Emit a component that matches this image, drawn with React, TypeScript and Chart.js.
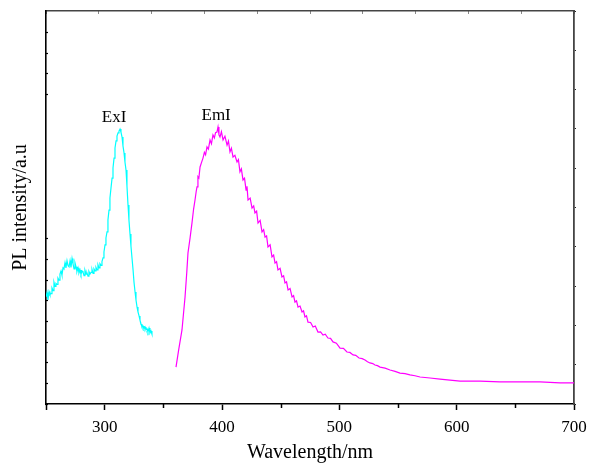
import React, { useEffect, useRef } from "react";
import { Chart, registerables } from "chart.js";

Chart.register(...registerables);

// Excitation spectrum (ExI)
const exWavelengths = [
  250.0, 250.9, 251.7, 252.6, 253.4, 254.3, 255.1, 256.0, 256.8, 257.7,
  258.5, 259.4, 260.2, 261.1, 261.9, 262.8, 263.6, 264.5, 265.3, 266.2,
  267.0, 267.9, 268.8, 269.6, 270.5, 271.3, 272.2, 273.0, 273.9, 274.7,
  275.6, 276.4, 277.3, 278.1, 279.0, 279.8, 280.7, 281.5, 282.4, 283.2,
  284.1, 284.9, 285.8, 286.6, 287.5, 288.4, 289.2, 290.1, 290.9, 291.8,
  292.6, 293.5, 294.3, 295.2, 296.0, 296.9, 297.7, 298.6, 299.4, 300.3,
  301.1, 302.0, 302.8, 303.7, 304.5, 305.4, 306.3, 307.1, 308.0, 308.8,
  309.7, 310.5, 311.4, 312.2, 313.1, 313.9, 314.8, 315.6, 316.5, 317.3,
  318.2, 319.0, 319.9, 320.7, 321.6, 322.4, 323.3, 324.2, 325.0, 325.9,
  326.7, 327.6, 328.4, 329.3, 330.1, 331.0, 331.8, 332.7, 333.5, 334.4,
  335.2, 336.1, 336.9, 337.8, 338.6, 339.5, 340.3,
];
const exIntensity = [
  5.19, 5.4, 5.05, 5.45, 5.3, 5.35, 5.62, 5.5, 5.9, 5.7,
  5.85, 5.8, 6.1, 6.0, 6.3, 6.45, 6.25, 6.6, 6.55, 6.85,
  6.6, 6.95, 6.7, 6.65, 6.95, 6.62, 7.05, 6.8, 6.55, 6.85,
  6.65, 6.42, 6.6, 6.35, 6.5, 6.28, 6.45, 6.4, 6.22, 6.48,
  6.3, 6.36, 6.2, 6.42, 6.3, 6.38, 6.52, 6.33, 6.55, 6.45,
  6.62, 6.5, 6.75, 6.6, 6.8, 6.72, 6.9, 7.08, 7.37, 7.71,
  8.05, 8.34, 8.92, 9.4, 9.99, 10.47, 10.95, 11.44, 11.92, 12.41,
  12.75, 12.99, 13.14, 13.23, 13.33, 13.18, 12.94, 12.51, 12.17, 11.73,
  11.34, 10.57, 9.65, 8.92, 8.24, 7.66, 7.08, 6.5, 5.91, 5.43,
  5.04, 4.7, 4.46, 4.27, 4.07, 3.88, 3.73, 3.78, 3.64, 3.73,
  3.59, 3.64, 3.49, 3.68, 3.44, 3.54, 3.39,
];

// Emission spectrum (EmI)
const emWavelengths = [
  360.8, 363.0, 365.9, 368.5, 370.0, 371.0, 372.8, 374.4, 375.8, 377.0,
  378.0, 378.7, 379.5, 380.3, 381.3, 382.5, 383.8, 385.0, 386.0, 387.2,
  388.4, 389.8, 391.0, 392.3, 393.5, 394.5, 395.7, 396.6, 397.4, 398.3,
  399.5, 400.9, 402.5, 404.3, 405.5, 406.8, 408.0, 409.4, 411.0, 412.8,
  414.0, 415.3, 416.5, 417.9, 419.2, 420.5, 421.3, 422.2, 424.0, 425.6,
  427.0, 428.1, 429.5, 430.7, 432.5, 434.1, 435.5, 436.7, 438.0, 439.2,
  441.0, 442.6, 444.0, 445.2, 446.5, 447.7, 449.5, 451.1, 452.5, 453.7,
  455.0, 456.3, 458.0, 459.7, 461.0, 462.2, 463.5, 464.8, 466.5, 468.2,
  469.5, 470.7, 472.0, 473.3, 475.5, 477.6, 479.5, 481.8, 484.0, 486.1,
  488.0, 490.3, 492.5, 494.6, 497.5, 500.6, 503.5, 506.5, 509.0, 511.7,
  514.0, 516.8, 519.5, 521.9, 524.0, 526.1, 528.5, 530.4, 532.5, 534.7,
  539.0, 543.2, 547.5, 551.7, 556.0, 560.2, 564.5, 568.8, 577.3, 585.8,
  594.3, 602.9, 619.9, 636.9, 654.0, 671.0, 688.1, 700.0,
];
const emIntensity = [
  1.79, 2.6, 3.59, 5.19, 6.4, 7.32, 8.05, 8.77, 9.45, 9.89,
  10.3, 10.52, 11.02, 10.95, 11.49, 11.7, 11.92, 12.2, 12.08, 12.46,
  12.35, 12.8, 12.62, 13.04, 12.9, 13.15, 13.18, 13.43, 13.05, 12.94,
  13.2, 12.8, 12.98, 12.55, 12.75, 12.22, 12.4, 11.97, 12.05, 11.73,
  11.85, 11.25, 11.4, 10.86, 10.95, 10.37, 10.55, 9.89, 9.98, 9.5,
  9.6, 9.26, 9.35, 8.77, 8.9, 8.34, 8.45, 8.09, 8.15, 7.61,
  7.72, 7.13, 7.22, 6.83, 6.9, 6.5, 6.58, 6.16, 6.22, 5.87,
  5.92, 5.53, 5.6, 5.19, 5.25, 4.94, 5.0, 4.7, 4.75, 4.46,
  4.52, 4.22, 4.28, 3.97, 3.95, 3.73, 3.78, 3.49, 3.5, 3.34,
  3.38, 3.2, 3.18, 3.01, 2.95, 2.71, 2.7, 2.52, 2.5, 2.38,
  2.36, 2.23, 2.2, 2.13, 2.05, 1.99, 1.96, 1.89, 1.86, 1.79,
  1.74, 1.65, 1.58, 1.5, 1.47, 1.41, 1.37, 1.31, 1.26, 1.21,
  1.16, 1.11, 1.11, 1.07, 1.07, 1.07, 1.02, 1.02,
];

const xMin = 250;
const xMax = 700;
const xLabelTicks = [300, 400, 500, 600, 700];
const xMinorTicks = [350, 450, 550, 650];
const yMin = 0;
const yMax = 19.05;
const yHiddenTicks = [9, 10, 11, 12, 13, 14];

const peakLabels = ["ExI", "EmI"];
const peakLabelX = [308, 395];
const peakLabelY = [13.9, 14.0];

const xTitle = "Wavelength/nm";
const yTitle = "PL intensity/a.u";

const FONT = "'Liberation Serif', 'Times New Roman', serif";

const decorPlugin = {
  id: "decor",
  afterDraw(chart: any) {
    const { ctx, scales } = chart;
    const x = scales.x;
    const y = scales.y;
    const base = chart.chartArea.bottom;
    ctx.save();
    ctx.strokeStyle = "#000";
    ctx.lineWidth = 1.5;
    xMinorTicks.forEach((v) => {
      const px = Math.round(x.getPixelForValue(v)) + 0.5;
      ctx.beginPath();
      ctx.moveTo(px, base);
      ctx.lineTo(px, base + 4);
      ctx.stroke();
    });
    ctx.fillStyle = "#000";
    ctx.font = `17px ${FONT}`;
    ctx.textAlign = "center";
    ctx.textBaseline = "middle";
    peakLabels.forEach((t, i) => {
      ctx.fillText(t, x.getPixelForValue(peakLabelX[i]), y.getPixelForValue(peakLabelY[i]));
    });
    ctx.restore();
  },
};

export default function App() {
  const ref = useRef<HTMLCanvasElement | null>(null);

  useEffect(() => {
    if (!ref.current) return;
    Chart.defaults.font.family = FONT;
    Chart.defaults.color = "#000";
    const chart = new Chart(ref.current, {
      type: "line",
      data: {
        datasets: [
          {
            label: "ExI",
            data: exWavelengths.map((w, i) => ({ x: w, y: exIntensity[i] })),
            borderColor: "#00ffff",
            borderWidth: 1.2,
            pointRadius: 0,
            tension: 0,
            xAxisID: "x",
            yAxisID: "y",
          },
          {
            label: "EmI",
            data: emWavelengths.map((w, i) => ({ x: w, y: emIntensity[i] })),
            borderColor: "#ff00ff",
            borderWidth: 1.2,
            pointRadius: 0,
            tension: 0,
            xAxisID: "x",
            yAxisID: "y",
          },
        ],
      },
      options: {
        responsive: false,
        animation: false,
        devicePixelRatio: 1,
        layout: { padding: 0 },
        plugins: {
          legend: { display: false },
          tooltip: { enabled: false },
        },
        scales: {
          x: {
            type: "linear",
            position: "bottom",
            min: xMin,
            max: xMax,
            afterBuildTicks: (s: any) => {
              s.ticks = [xMin, ...xLabelTicks].map((v) => ({ value: v }));
            },
            ticks: {
              autoSkip: false,
              maxRotation: 0,
              padding: 7,
              font: { size: 17, family: FONT },
              color: "#000",
              callback: (v: any) => (xLabelTicks.includes(Number(v)) ? String(v) : ""),
            },
            grid: {
              drawOnChartArea: false,
              drawTicks: true,
              tickLength: 6,
              tickWidth: 1.5,
              tickColor: "#000",
            },
            border: { display: true, color: "#000", width: 1.6 },
            title: {
              display: true,
              text: xTitle,
              font: { size: 20, family: FONT },
              color: "#000",
              padding: { top: 0, bottom: 1 },
            },
            afterFit: (s: any) => {
              s.height = 62;
              s.paddingLeft = 0;
              s.paddingRight = 0;
            },
          },
          x2: {
            type: "linear",
            position: "top",
            min: xMin,
            max: xMax,
            afterBuildTicks: (s: any) => {
              const arr = [];
              for (let i = 0; i <= 10; i++) arr.push({ value: xMin + ((xMax - xMin) * i) / 10 });
              s.ticks = arr;
            },
            ticks: { display: false },
            grid: {
              drawOnChartArea: false,
              drawTicks: true,
              tickLength: -3,
              tickWidth: 1,
              tickColor: "#888",
            },
            border: { display: true, color: "#444", width: 1.5 },
            afterFit: (s: any) => {
              s.height = 11;
              s.paddingLeft = 0;
              s.paddingRight = 0;
            },
          },
          y: {
            type: "linear",
            position: "left",
            min: yMin,
            max: yMax,
            afterBuildTicks: (s: any) => {
              const arr = [];
              for (let v = 0; v <= 18; v++) arr.push({ value: v });
              s.ticks = arr;
            },
            ticks: { display: false },
            grid: {
              drawOnChartArea: false,
              drawTicks: true,
              tickLength: -2,
              tickWidth: 1.2,
              tickColor: (c: any) =>
                yHiddenTicks.includes(c.tick?.value) ? "rgba(0,0,0,0)" : "#000",
            },
            border: { display: true, color: "#000", width: 1.6 },
            title: {
              display: true,
              text: yTitle,
              font: { size: 20, family: FONT },
              color: "#000",
              padding: { top: 9, bottom: 0 },
            },
            afterFit: (s: any) => {
              s.width = 46;
            },
          },
          y2: {
            type: "linear",
            position: "right",
            min: 0,
            max: 10,
            afterBuildTicks: (s: any) => {
              const arr = [];
              for (let v = 0; v <= 10; v++) arr.push({ value: v });
              s.ticks = arr;
            },
            ticks: { display: false },
            grid: {
              drawOnChartArea: false,
              drawTicks: true,
              tickLength: 2,
              tickWidth: 1.2,
              tickColor: "#222",
            },
            border: { display: true, color: "#444", width: 1.8 },
            afterFit: (s: any) => {
              s.width = 16;
            },
          },
        },
      },
      plugins: [decorPlugin],
    } as any);
    return () => chart.destroy();
  }, []);

  return (
    <div style={{ position: "absolute", left: 0, top: 0, width: 590, height: 466, background: "#fff" }}>
      <canvas ref={ref} width={590} height={466} style={{ display: "block" }} />
    </div>
  );
}
